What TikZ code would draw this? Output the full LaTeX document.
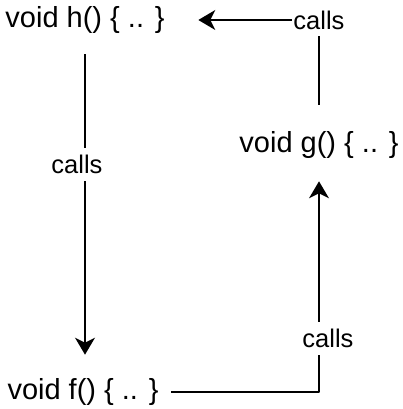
\documentclass[tikz,border=0pt]{standalone}
\usepackage{fontspec}
\setmainfont{Liberation Sans}
\usetikzlibrary{arrows.meta}
\begin{document}
\begin{tikzpicture}[x=1pt,y=-1pt,>={Stealth[length=17pt,width=20pt,inset=5pt]}, line width=1.6pt, line join=round]
	\tikzset{fn/.style={inner sep=0pt, font=\fontsize{29}{32}\selectfont},
		lbl/.style={fill=white, inner xsep=1pt, inner ysep=7pt, font=\fontsize{25.5}{28}\selectfont}}
	\useasboundingbox (0,0) rectangle (402,409);
	\node[fn] (h) at (85,20) {void h() \{ .. \}};
	\node[fn] (g) at (319,145) {void g() \{ .. \}};
	\node[fn] (f) at (83,392) {void f() \{ .. \}};
	% calls
	\draw[->, shorten <=20pt, shorten >=23pt] (h.south) -- (h.south |- f.north) node[lbl, pos=0.38, xshift=-8pt] {calls};
	\draw[->, shorten <=12pt, shorten >=22pt] (f.east) -| (g.south) node[lbl, pos=0.615, xshift=9pt] {calls};
	\draw[->, shorten <=26pt, shorten >=33pt] (g.north) |- (h.east) node[lbl, pos=0.5] {calls};
\end{tikzpicture}
\end{document}
